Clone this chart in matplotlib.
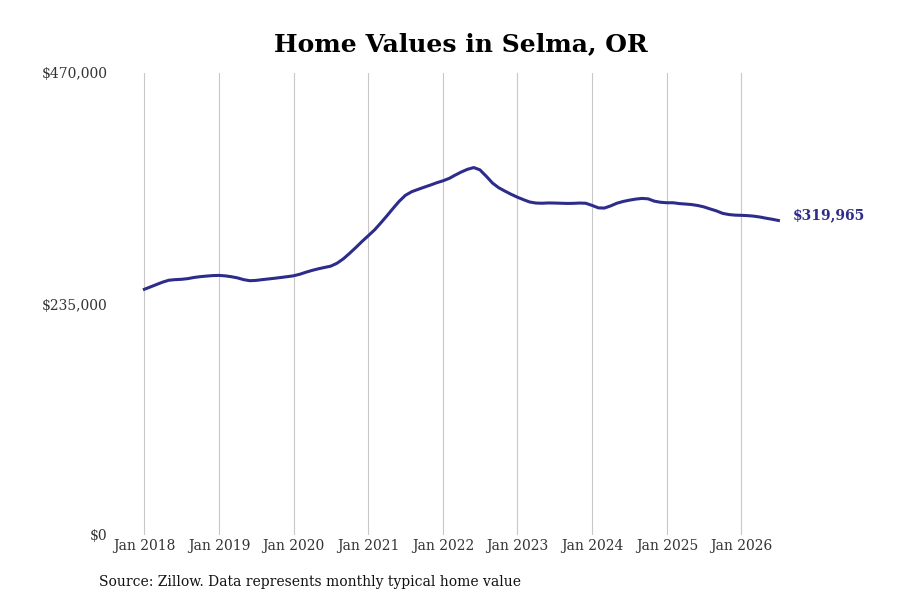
import pandas as pd
import matplotlib
matplotlib.use('Agg')
import matplotlib.pyplot as plt
import matplotlib.dates as mdates
from matplotlib.ticker import FuncFormatter

# monthly typical home value, Jan 2018 .. Jul 2026
values = [
    250000, 252500, 254800, 257300, 259200, 259800, 260100, 260800, 262000, 262800,
    263400, 263900, 264100, 263600, 262800, 261600, 259800, 258700, 259000, 259800,
    260500, 261200, 262000, 262800, 263700, 265300, 267300, 269200, 270800, 272200,
    273500, 276500, 281000, 286500, 292500, 298600, 304500, 310500, 317000, 324500,
    332000, 339500, 345500, 349200, 351600, 353800, 356000, 358300, 360300, 362800,
    366000, 369300, 372000, 373800, 371500, 365000, 358000, 353300, 349800, 346600,
    343600, 341000, 338800, 337700, 337500, 337800, 337700, 337500, 337300, 337400,
    337700, 337500, 335300, 332800, 332600, 334800, 337500, 339300, 340600, 341700,
    342400, 342000, 339600, 338500, 338000, 338000, 337200, 336700, 336200, 335200,
    333800, 331700, 329700, 327200, 326000, 325400, 325200, 324900, 324400, 323500,
    322300, 321200, 319965,
]
dates = pd.date_range('2018-01-01', periods=len(values), freq='MS')
tick_years = list(range(2018, 2027))
y_ticks = [0, 235000, 470000]

line_color = '#2e2c8a'
plt.rcParams['font.family'] = ['DejaVu Serif']

fig = plt.figure(figsize=(9, 6), dpi=100)
ax = fig.add_axes([116 / 900, 65 / 600, 700 / 900, 462 / 600])

ax.plot(dates, values, color=line_color, linewidth=2.2)

ax.set_ylim(0, 470000)
ax.set_yticks(y_ticks)
ax.yaxis.set_major_formatter(FuncFormatter(lambda v, p: f'${v:,.0f}'))
ax.set_xlim(pd.Timestamp('2017-08-15'), pd.Timestamp('2027-01-01'))
ax.set_xticks([pd.Timestamp(f'{y}-01-01') for y in tick_years])
ax.xaxis.set_major_formatter(mdates.DateFormatter('Jan %Y'))

ax.grid(axis='x', color='#c8c8c8', linewidth=0.8)
ax.grid(axis='y', visible=False)
for s in ax.spines.values():
    s.set_visible(False)
ax.tick_params(length=0, labelsize=10, colors='#333333')
ax.tick_params(axis='y', pad=6)
ax.tick_params(axis='x', pad=3)

ax.annotate(f'${values[-1]:,.0f}', xy=(dates[-1], values[-1]), xytext=(10, 4),
            textcoords='offset points', ha='left', va='center',
            fontsize=10, fontweight='bold', color=line_color, annotation_clip=False)

fig.text(461 / 900, 1 - 44 / 600, 'Home Values in Selma, OR', ha='center', va='center',
         fontsize=18, fontweight='bold', color='black')
fig.text(99 / 900, 1 - 582 / 600, 'Source: Zillow. Data represents monthly typical home value',
         ha='left', va='center', fontsize=10, color='#111111')

fig.savefig('out.png', dpi=100)
